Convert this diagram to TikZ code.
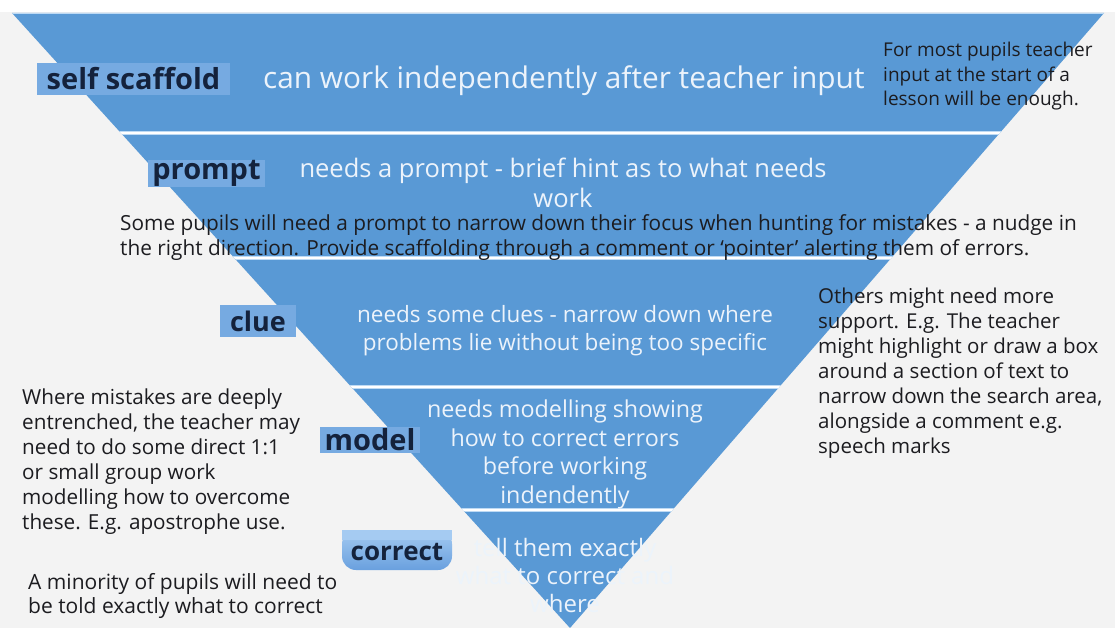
\documentclass[tikz,border=0pt]{standalone}
\usepackage{fontspec}
\setmainfont{Open Sans}
\definecolor{bgc}{RGB}{243,243,243}
\definecolor{tri}{RGB}{89,153,213}
\definecolor{lblfill}{RGB}{118,170,225}
\definecolor{lbltop}{RGB}{165,203,242}
\definecolor{lblbot}{RGB}{105,160,222}
\definecolor{lbltxt}{RGB}{20,34,60}
\definecolor{bandtxt}{RGB}{236,243,251}
\definecolor{notetxt}{RGB}{28,28,32}
\definecolor{sepline}{RGB}{190,218,244}
\begin{document}
\begin{tikzpicture}[x=1pt,y=-1pt,
  band/.style={text=bandtxt, align=center, inner sep=0, anchor=north},
  bandone/.style={text=bandtxt, inner sep=0, anchor=base west},
  lbl/.style={fill=lblfill, text=lbltxt, inner sep=0},
  note/.style={text=notetxt, align=left, inner sep=0, anchor=north west},
  sep/.style={white, line width=2.4pt},
  topedge/.style={sepline, line width=1.5pt}]
\useasboundingbox (0,0) rectangle (1115,628);
\fill[bgc] (0,0) rectangle (1115,628);
\fill[white] (0,0) rectangle (1115,12);
% inverted triangle
\coordinate (tl) at (12,13);
\coordinate (tr) at (1104,13);
\coordinate (ap) at (570,628);
\fill[tri] (tl) -- (tr) -- (ap) -- cycle;
\begin{scope}
  \clip (tl) -- (tr) -- (ap) -- cycle;
  \foreach \y in {133,258,387,510} {
    \draw[sepline, line width=4pt] (0,\y) -- (1115,\y);
    \draw[sep] (0,\y) -- (1115,\y);
  }
  \draw[topedge] (0,13.7) -- (1115,13.7);
\end{scope}
% labels
\node[lbl, minimum width=193pt, minimum height=32pt] (l1) at (133.5,79) {\fontsize{29}{30}\selectfont\bfseries self scaffold};
\node[lbl, minimum width=117pt, minimum height=27pt] (l2) at (206.5,173.5) {\fontsize{29}{30}\selectfont\bfseries prompt};
\node[lbl, minimum width=76pt, minimum height=32pt] (l3) at (258,321) {\fontsize{27}{28}\selectfont\bfseries clue};
\node[lbl, minimum width=100pt, minimum height=26pt] (l4) at (370,440) {\fontsize{29}{30}\selectfont\bfseries model};
\shade[top color=lbltop, bottom color=lblbot, rounded corners=14pt]
  (342,530) -- (342,570) -- (452,570) -- (452,530) -- cycle;
\fill[lbltop] (342,530) rectangle (452,540);
\node[text=lbltxt, inner sep=0] (l5) at (397,552) {\fontsize{26}{27}\selectfont\bfseries correct};
% band texts
\node[bandone, font=\fontsize{29.8}{30}\selectfont] (b1) at (263,88.5) {can work independently after teacher input};
\node[band, font=\fontsize{25.5}{30}\selectfont] (b2) at (563,157.5) {needs a prompt - brief hint as to what needs\\work};
\node[band, font=\fontsize{22.5}{28}\selectfont] (b3) at (565,305) {needs some clues - narrow down where\\problems lie without being too specific};
\node[band, font=\fontsize{23.3}{28.5}\selectfont] (b4) at (565,400) {needs modelling showing\\how to correct errors\\before working\\indendently};
\node[band, font=\fontsize{24}{28}\selectfont] (b5) at (565,538) {tell them exactly\\what to correct and\\where};
% notes
\node[note, font=\fontsize{19}{24.5}\selectfont] (n1) at (883,42) {For most pupils teacher\\input at the start of a\\lesson will be enough.};
\node[note, font=\fontsize{20.8}{25}\selectfont] (n2) at (120,214) {Some pupils will need a prompt to narrow down their focus when hunting for mistakes - a nudge in\\the right direction. Provide scaffolding through a comment or ‘pointer’ alerting them of errors.};
\node[note, font=\fontsize{20.5}{25}\selectfont] (n3) at (818,288) {Others might need more\\support. E.g. The teacher\\might highlight or draw a box\\around a section of text to\\narrow down the search area,\\alongside a comment e.g.\\speech marks};
\node[note, font=\fontsize{20.7}{25}\selectfont] (n4) at (22,389) {Where mistakes are deeply\\entrenched, the teacher may\\need to do some direct 1:1\\or small group work\\modelling how to overcome\\these. E.g. apostrophe use.};
\node[note, font=\fontsize{21}{24}\selectfont] (n5) at (28,573) {A minority of pupils will need to\\be told exactly what to correct};
\end{tikzpicture}
\end{document}
